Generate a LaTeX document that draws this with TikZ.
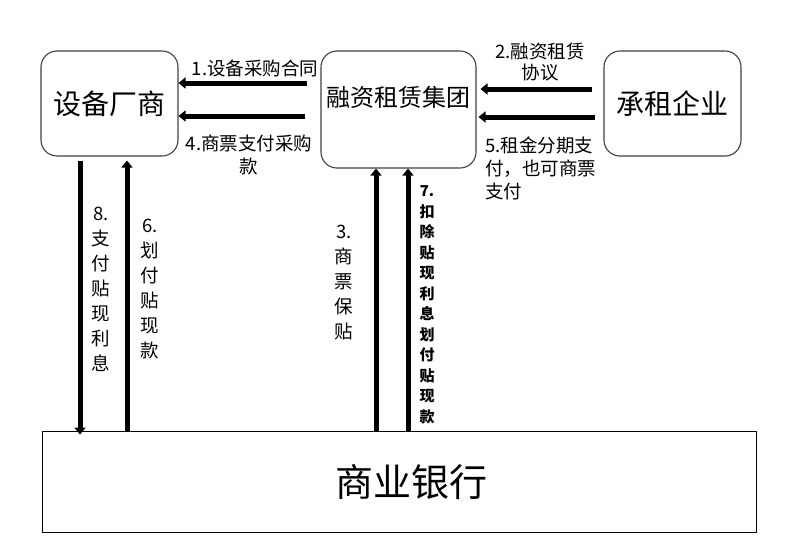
\documentclass[tikz,border=0pt]{standalone}
\usepackage{fontspec}
\newfontfamily\cjk{Noto Sans CJK SC}
\usetikzlibrary{arrows.meta}

\begin{document}
\begin{tikzpicture}[x=1pt,y=-1pt,
    box/.style={draw=black!75, line width=1.1pt, rounded corners=16pt, inner sep=0pt},
    flow/.style={line width=5pt, -{Triangle[width=11pt,length=7pt]}},
    lbl/.style={inner sep=0pt, align=center, font=\cjk\fontsize{18.5}{23}\selectfont},
    vlbl/.style={lbl, font=\cjk\fontsize{18.5}{25}\selectfont}]

        \useasboundingbox (0,0) rectangle (785,558);

        \node[box, minimum width=137pt, minimum height=105pt, font=\cjk\fontsize{28}{30}\selectfont] (maker) at (109.5,103.5) {设备厂商};

        \node[box, minimum width=155pt, minimum height=117pt, label={[font=\cjk\fontsize{24}{26}\selectfont, yshift=12.5pt]center:融资租赁集团}] (lessor) at (398.5,109.5) {};

        \node[box, minimum width=137pt, minimum height=105pt, font=\cjk\fontsize{28}{30}\selectfont] (lessee) at (672.5,103.5) {承租企业};

        \node[draw, line width=0.9pt, minimum width=714pt, minimum height=101pt, label={[font=\cjk\fontsize{38}{40}\selectfont, xshift=12pt, yshift=-1pt]center:商业银行}] (bank) at (399,481.5) {};

        % horizontal flows
        \draw[flow, shorten <=13pt] ([yshift=26.5pt]lessor.west) coordinate (l1) -- (l1 -| maker.east);
        \draw[flow, shorten <=15pt] ([yshift=-6.5pt]lessor.west) coordinate (l4) -- (l4 -| maker.east);
        \draw[flow, shorten <=11pt, shorten >=4pt] ([yshift=14.5pt]lessee.west) coordinate (l2) -- (l2 -| lessor.east);
        \draw[flow, shorten <=8pt, shorten >=2pt] ([yshift=-13.5pt]lessee.west) coordinate (l5) -- (l5 -| lessor.east);

        % vertical flows
        \draw[flow, shorten <=4pt, shorten >=-4pt] ([xshift=-29.5pt]maker.south) coordinate (m8) -- (m8 |- bank.north);
        \draw[flow, shorten >=4pt] ([xshift=-272pt]bank.north) coordinate (b6) -- (b6 |- maker.south);
        \draw[flow] ([xshift=-23pt]bank.north) coordinate (b3) -- (b3 |- lessor.south);
        \draw[flow] ([xshift=9pt]bank.north) coordinate (b7) -- (b7 |- lessor.south);

        \node[lbl] (t1) at (255,68) {1.设备采购合同};
        \node[lbl] (t4) at (249,155) {4.商票支付采购\\款};
        \node[lbl, font=\cjk\fontsize{18.5}{21}\selectfont] (t2) at (540,62) {2.融资租赁\\协议};
        \node[lbl, align=left, anchor=west] (t5) at (485,168) {5.租金分期支\\付，也可商票\\支付};

        \node[vlbl] (t8) at (101,289) {8.\\支\\付\\贴\\现\\利\\息};
        \node[vlbl] (t6) at (150,289) {6.\\划\\付\\贴\\现\\款};
        \node[vlbl] (t3) at (344,283) {3.\\商\\票\\保\\贴};
        \node[lbl, font=\cjk\bfseries\fontsize{15}{20.5}\selectfont] (t7) at (427,305) {7.\\扣\\除\\贴\\现\\利\\息\\划\\付\\贴\\现\\款};

    \end{tikzpicture}
\end{document}
